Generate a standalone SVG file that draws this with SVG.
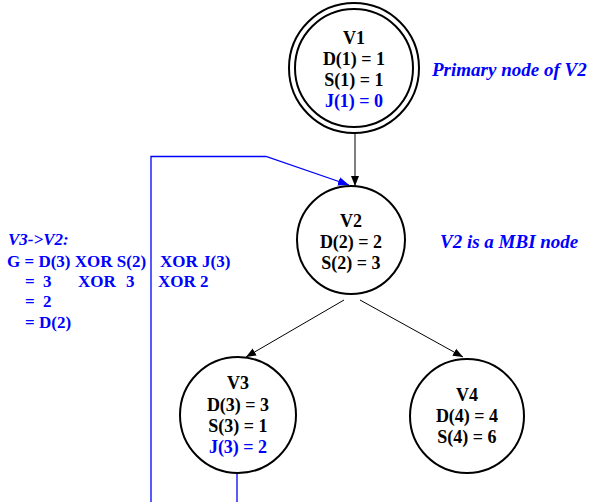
<svg xmlns="http://www.w3.org/2000/svg" width="589" height="502" viewBox="0 0 589 502">
<style>
.n{fill:#fff;stroke:#000;stroke-width:2}
text{font-family:'Liberation Serif','Times New Roman',Times,serif;font-weight:bold;font-size:18px}
.t{fill:#000;text-anchor:middle}
.b{fill:#0000ff}
.l{fill:#0000ff;font-size:17px}
.r{fill:#0000ff;font-size:19px;font-style:italic}
.i{font-style:italic}
.e{stroke:#000;stroke-width:1;fill:none}
.eb{stroke:#0000ff;stroke-width:1.3;fill:none}
</style>
<defs>
<marker id="ak" viewBox="0 0 10 10" refX="10" refY="5" markerWidth="10" markerHeight="10" markerUnits="userSpaceOnUse" orient="auto"><path d="M0,1 L10,5 L0,9 Z" fill="#000"/></marker>
<marker id="ab" viewBox="0 0 10 10" refX="10" refY="5" markerWidth="11" markerHeight="11" markerUnits="userSpaceOnUse" orient="auto"><path d="M0,1 L10,5 L0,9 Z" fill="#0000ff"/></marker>
</defs>
<g id="edges">
<line class="e" x1="355" y1="133" x2="355" y2="186" marker-end="url(#ak)"/>
<line class="e" x1="344" y1="300" x2="246" y2="357" marker-end="url(#ak)"/>
<line class="e" x1="360" y1="300" x2="463" y2="357" marker-end="url(#ak)"/>
<polyline class="eb" points="151,502 151,156.5 266,156.5 349,185" marker-end="url(#ab)"/>
<line class="eb" x1="237" y1="474" x2="237" y2="502"/>
</g>
<g id="V1">
<circle class="n" cx="354" cy="68" r="65"/>
<circle class="n" cx="354" cy="68" r="59"/>
<text class="t" x="354" y="44">V1</text>
<text class="t" x="354" y="65">D(1) = 1</text>
<text class="t" x="354" y="86">S(1) = 1</text>
<text class="t b" x="354" y="107">J(1) = 0</text>
</g>
<g id="V2">
<circle class="n" cx="351" cy="240" r="54"/>
<text class="t" x="351" y="227">V2</text>
<text class="t" x="351" y="248">D(2) = 2</text>
<text class="t" x="351" y="269">S(2) = 3</text>
</g>
<g id="V3">
<circle class="n" cx="238" cy="415" r="58"/>
<text class="t" x="238" y="389">V3</text>
<text class="t" x="238" y="411">D(3) = 3</text>
<text class="t" x="238" y="432">S(3) = 1</text>
<text class="t b" x="238" y="453">J(3) = 2</text>
</g>
<g id="V4">
<circle class="n" cx="467" cy="416" r="57"/>
<text class="t" x="467" y="401">V4</text>
<text class="t" x="467" y="422">D(4) = 4</text>
<text class="t" x="467" y="443">S(4) = 6</text>
</g>
<g id="labels">
<text class="r" x="432" y="76">Primary node of V2</text>
<text class="r" x="440" y="248">V2 is a MBI node</text>
<text class="l i" x="8" y="245">V3-&gt;V2:</text>
<text class="l" x="7" y="267">G = D(3) XOR S(2)</text>
<text class="l" x="160" y="267">XOR J(3)</text>
<text class="l" x="25" y="287">=</text>
<text class="l" x="43" y="287">3</text>
<text class="l" x="78" y="287">XOR</text>
<text class="l" x="126" y="287">3</text>
<text class="l" x="158" y="287">XOR 2</text>
<text class="l" x="25" y="307">=</text>
<text class="l" x="43" y="307">2</text>
<text class="l" x="25" y="328">= D(2)</text>
</g>
</svg>
